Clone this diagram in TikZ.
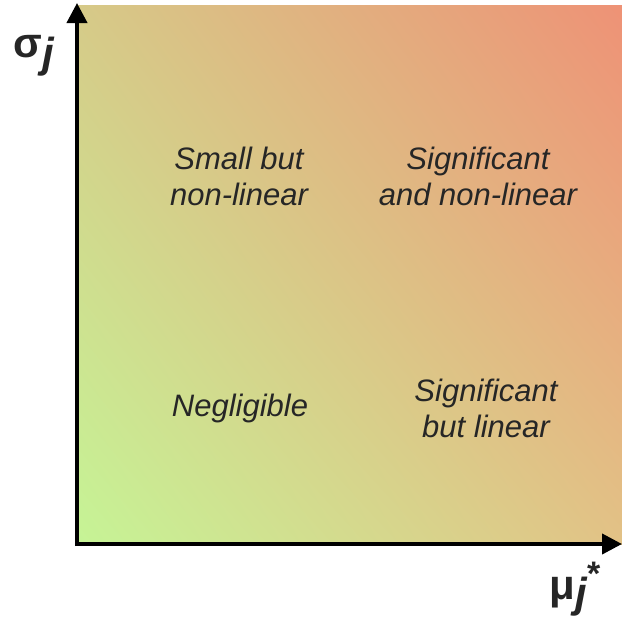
\documentclass[tikz,border=0pt]{standalone}
\usepackage{fontspec}
\setmainfont{Liberation Sans}
\usetikzlibrary{arrows.meta,shadings}
\definecolor{cLL}{RGB}{198,244,150}
\definecolor{cUL}{RGB}{214,202,136}
\definecolor{cLR}{RGB}{226,194,134}
\definecolor{cUR}{RGB}{238,146,118}
\tikzset{
  quad/.style={font=\fontsize{15.5}{18}\selectfont\itshape, align=center, text=black!85},
  axis/.style={line width=2pt, -{Triangle[length=10pt,width=10pt]}},
  axlabel/.style={font=\fontsize{21}{24}\selectfont\bfseries, text=black!85, inner sep=0pt}
}
\begin{document}
\begin{tikzpicture}[x=0.5pt,y=-0.5pt]
\useasboundingbox (0,0) rectangle (622,621);
\shade[lower left=cLL, upper left=cUL, lower right=cLR, upper right=cUR] (77,5) rectangle (622,544);
\coordinate (O) at (77,544);
\coordinate (ytop) at (77,3);
\coordinate (xend) at (622,544);
\draw[axis] ([yshift=-1pt]O) -- (ytop);
\draw[axis] ([xshift=-1pt]O) -- (xend);
\node[quad] (sn) at (239,176) {Small but\\non-linear};
\node[quad] (snl) at (478,176) {Significant\\and non-linear};
\node[quad] (ng) at (240,408) {Negligible};
\node[quad] (sl) at (486,408) {Significant\\but linear};
\node[axlabel] (sig) at (34,56) {σ\raisebox{-5pt}{\itshape j}};
\node[axlabel] (mu) at (575,589) {μ\raisebox{-4pt}{\itshape j}\raisebox{7pt}{\fontsize{17}{20}\selectfont *}};
\end{tikzpicture}
\end{document}
